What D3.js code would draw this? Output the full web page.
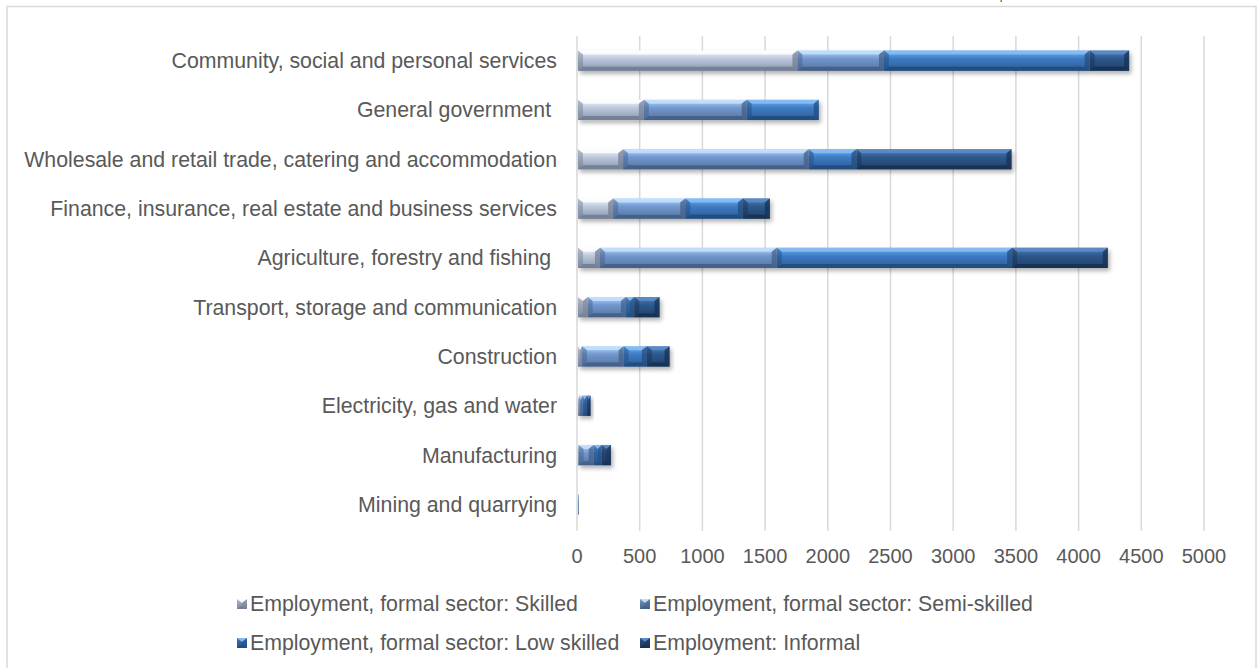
<!DOCTYPE html>
<html>
<head>
<meta charset="utf-8">
<script src="https://cdnjs.cloudflare.com/ajax/libs/d3/7.8.5/d3.min.js"></script>
<style>
  html, body { margin: 0; padding: 0; background: #fff; }
  svg { display: block; }
  text { font-family: "Liberation Sans", Arial, sans-serif; }
</style>
</head>
<body>
<svg id="chart" width="1257" height="668"></svg>
<script>
// ---------------- data ----------------
const categories = [
  "Community, social and personal services",
  "General government ",
  "Wholesale and retail trade, catering and accommodation",
  "Finance, insurance, real estate and business services",
  "Agriculture, forestry and fishing ",
  "Transport, storage and communication",
  "Construction",
  "Electricity, gas and water",
  "Manufacturing",
  "Mining and quarrying"
];
const skilled     = [1750, 525,  360, 280,  175,  77,  32, 10,   5, 1];
const semiSkilled = [ 690, 820, 1480, 575, 1410, 305, 332, 25, 120, 2];
const lowSkilled  = [1640, 575,  380, 460, 1877,  66, 185, 35,  64, 2];
const informal    = [ 315,   0, 1237, 215,  763, 202, 181, 30,  74, 1];
const seriesNames = [
  "Employment, formal sector: Skilled",
  "Employment, formal sector: Semi-skilled",
  "Employment, formal sector: Low skilled",
  "Employment: Informal"
];
const tickValues = [0, 500, 1000, 1500, 2000, 2500, 3000, 3500, 4000, 4500, 5000];

// ---------------- styles ----------------
const palette = [
  { top: "#f6f9fe", mid: "#bcc8db", bot: "#8795ad", light: "#ffffff", dark: "#6f7b90" },
  { top: "#b3d5fa", mid: "#7297cf", bot: "#55749f", light: "#c6e2ff", dark: "#435d82" },
  { top: "#72b0f2", mid: "#3d7bc4", bot: "#2c5b95", light: "#8cc0f7", dark: "#224a7a" },
  { top: "#4d7fbc", mid: "#2d588c", bot: "#213f69", light: "#5f8fca", dark: "#182f50" }
];

const svg = d3.select("#chart");
const defs = svg.append("defs");

palette.forEach((p, i) => {
  const g = defs.append("linearGradient").attr("id", "grad" + i)
    .attr("x1", 0).attr("y1", 0).attr("x2", 0).attr("y2", 1);
  g.append("stop").attr("offset", "0%").attr("stop-color", p.top);
  g.append("stop").attr("offset", "40%").attr("stop-color", p.mid);
  g.append("stop").attr("offset", "100%").attr("stop-color", p.bot);
});
const f = defs.append("filter").attr("id", "shadow")
  .attr("x", "-10%").attr("y", "-30%").attr("width", "130%").attr("height", "180%");
f.append("feDropShadow").attr("dx", 2).attr("dy", 3).attr("stdDeviation", 2)
  .attr("flood-color", "#000").attr("flood-opacity", 0.3);

// chart border
svg.append("rect").attr("x", 7).attr("y", 6.5).attr("width", 1249).attr("height", 680)
  .attr("fill", "none").attr("stroke", "#d9d9d9").attr("stroke-width", 1.5);

// stray mark at top (cropped text)
svg.append("text").attr("x", 999).attr("y", 0).attr("font-size", 14).attr("fill", "#000").text(",");

// ---------------- scales ----------------
const plotTop = 36, plotBottom = 529;
const x = d3.scaleLinear().domain([0, 5000]).range([577, 1204]);
const y = d3.scaleBand().domain(categories).range([plotTop, plotBottom]).paddingInner(0.59).paddingOuter(0.295);

// gridlines
svg.append("g").selectAll("line").data(tickValues).join("line")
  .attr("x1", d => x(d)).attr("x2", d => x(d))
  .attr("y1", plotTop).attr("y2", plotBottom + 2)
  .attr("stroke", "#d9d9d9").attr("stroke-width", 1.5);

// axis tick labels
svg.append("g").selectAll("text").data(tickValues).join("text")
  .attr("x", d => x(d)).attr("y", 563)
  .attr("text-anchor", "middle").attr("font-size", 20).attr("fill", "#595959")
  .text(d => d);

// category labels
svg.append("g").selectAll("text").data(categories).join("text")
  .attr("x", 557).attr("y", d => y(d) + y.bandwidth() / 2)
  .attr("dy", "0.35em").attr("text-anchor", "end")
  .attr("font-size", 21.3).attr("fill", "#595959")
  .style("white-space", "pre")
  .text(d => d);

// ---------------- bars ----------------
const seriesVals = [skilled, semiSkilled, lowSkilled, informal];
const segs = [];
categories.forEach((c, ci) => {
  let acc = 0;
  seriesVals.forEach((vals, si) => {
    const v = vals[ci];
    if (v > 0) segs.push({ c, si, x0: acc, x1: acc + v });
    acc += v;
  });
});

function drawBevel(g, X0, X1, Y0, Y1, si) {
  const p = palette[si];
  const w = X1 - X0, h = Y1 - Y0;
  const b = Math.min(5, w / 2), bv = Math.min(4, h / 2);
  g.append("rect").attr("x", X0).attr("y", Y0).attr("width", w).attr("height", h)
    .attr("fill", `url(#grad${si})`);
  const pts = a => a.map(q => q.join(",")).join(" ");
  g.append("polygon").attr("points", pts([[X0, Y0], [X1, Y0], [X1 - b, Y0 + bv], [X0 + b, Y0 + bv]]))
    .attr("fill", p.light).attr("opacity", 0.8);
  g.append("polygon").attr("points", pts([[X0, Y1], [X1, Y1], [X1 - b, Y1 - bv], [X0 + b, Y1 - bv]]))
    .attr("fill", p.dark).attr("opacity", 0.85);
  g.append("polygon").attr("points", pts([[X0, Y0], [X0 + b, Y0 + bv], [X0 + b, Y1 - bv], [X0, Y1]]))
    .attr("fill", p.dark).attr("opacity", 0.45);
  g.append("polygon").attr("points", pts([[X1, Y0], [X1 - b, Y0 + bv], [X1 - b, Y1 - bv], [X1, Y1]]))
    .attr("fill", p.dark).attr("opacity", 0.7);
}

const barsG = svg.append("g");
categories.forEach(c => {
  const rowG = barsG.append("g").attr("filter", "url(#shadow)");
  segs.filter(s => s.c === c).forEach(s => {
    drawBevel(rowG.append("g"), x(s.x0) + 1, x(s.x1) + 1, y(c), y(c) + y.bandwidth(), s.si);
  });
});

// ---------------- legend (2x2 grid) ----------------
const legendCols = [237, 640];
const legendY = [604, 643];
const legendG = svg.append("g");
seriesNames.forEach((name, si) => {
  const cx = legendCols[si % 2], cy = legendY[Math.floor(si / 2)];
  const g = legendG.append("g");
  drawBevel(g, cx, cx + 10, cy - 5, cy + 5, si);
  g.append("text").attr("x", cx + 13).attr("y", cy)
    .attr("dy", "0.35em").attr("font-size", 21.3).attr("fill", "#595959")
    .text(name);
});
</script>
</body>
</html>
